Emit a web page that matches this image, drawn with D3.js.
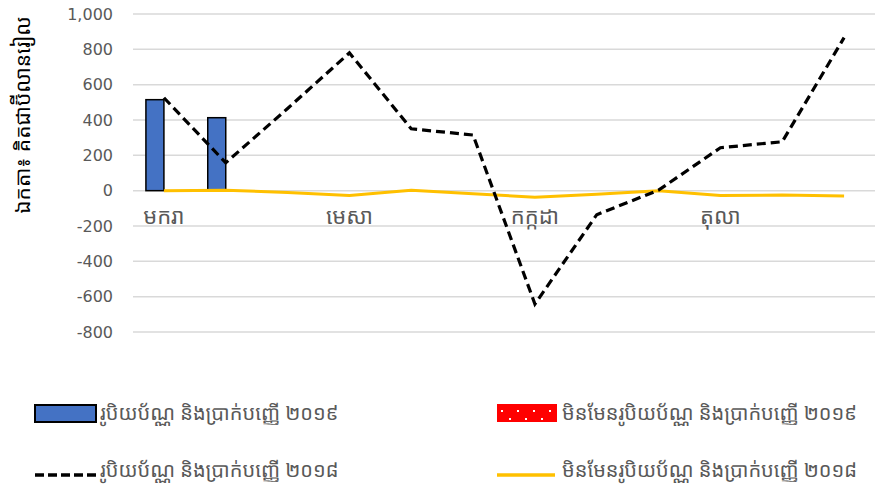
<!DOCTYPE html>
<html>
<head>
<meta charset="utf-8">
<script src="https://cdn.jsdelivr.net/npm/d3@7"></script>
<style>
  body { margin: 0; background: #fff; }
  text { font-family: "Noto Sans Khmer", "Khmer OS", Calibri, "Liberation Sans", "DejaVu Sans", sans-serif; }
</style>
</head>
<body>
<div class="canvas"></div>
<script>
// data
const months = ['មករា','កុម្ភៈ','មីនា','មេសា','ឧសភា','មិថុនា','កក្កដា','សីហា','កញ្ញា','តុលា','វិច្ឆិកា','ធ្នូ'];
const money2019 = [515, 413, null, null, null, null, null, null, null, null, null, null];
const nonMoney2019 = [null, null, null, null, null, null, null, null, null, null, null, null];
const money2018 = [526, 158, 465, 780, 350, 315, -642, -136, 3, 243, 277, 866];
const nonMoney2018 = [0, 2, -10, -28, 2, -18, -37, -20, 0, -28, -25, -30];
const yTicks = [-800, -600, -400, -200, 0, 200, 400, 600, 800, 1000];
const legendNames = [
    'រូបិយប័ណ្ណ និងប្រាក់បញ្ញើ ២០១៩',
    'មិនមែនរូបិយប័ណ្ណ និងប្រាក់បញ្ញើ ២០១៩',
    'រូបិយប័ណ្ណ និងប្រាក់បញ្ញើ ២០១៨',
    'មិនមែនរូបិយប័ណ្ណ និងប្រាក់បញ្ញើ ២០១៨'
];
const yTitle = 'ឯកតា៖ គិតជាប៊ីលានរៀល';

// margins
const margin = {top: 14, right: 4, bottom: 156, left: 133};
const width = 879, height = 488;
const graphWidth = width - margin.left - margin.right;
const graphHeight = height - margin.top - margin.bottom;

const svg = d3.select('.canvas').append('svg')
    .attr('width', width)
    .attr('height', height);

// red dotted pattern (legend swatch)
const pat = svg.append('defs').append('pattern')
    .attr('id', 'dots')
    .attr('width', 16).attr('height', 16)
    .attr('patternUnits', 'userSpaceOnUse');
pat.append('rect').attr('width', 16).attr('height', 16).attr('fill', '#ff0000');
pat.append('rect').attr('x', 4).attr('y', 13).attr('width', 2).attr('height', 2).attr('fill', '#fff');
pat.append('rect').attr('x', 12).attr('y', 5).attr('width', 2).attr('height', 2).attr('fill', '#fff');

const graph = svg.append('g')
    .attr('transform', `translate(${margin.left}, ${margin.top})`);

// scales
const x = d3.scaleBand()
    .domain(months)
    .range([0, graphWidth]);
const y = d3.scaleLinear()
    .domain([-800, 1000])
    .range([graphHeight, 0]);

// gridlines
graph.append('g')
    .selectAll('line')
    .data(yTicks)
    .join('line')
    .attr('x1', 0).attr('x2', graphWidth)
    .attr('y1', d => y(d)).attr('y2', d => y(d))
    .attr('stroke', '#d9d9d9')
    .attr('stroke-width', 1.5);

// y axis (plain hyphen for negatives, like the original)
const fmt = d3.format(',');
const yAxis = d3.axisLeft(y)
    .tickValues(yTicks)
    .tickSize(0)
    .tickPadding(20)
    .tickFormat(d => fmt(d).replace('\u2212', '-'));
const yAxisGroup = graph.append('g').call(yAxis);
yAxisGroup.select('.domain').remove();
yAxisGroup.selectAll('text')
    .attr('fill', '#595959')
    .style('font-family', '"DejaVu Sans", sans-serif')
    .style('font-size', '16px');

// bars (clustered: 2019 series side by side)
const barW = 18;
graph.append('g')
    .selectAll('rect')
    .data(money2019.map((v, i) => ({m: months[i], v})).filter(d => d.v != null))
    .join('rect')
    .attr('x', d => x(d.m) + x.bandwidth() / 2 - barW)
    .attr('width', barW)
    .attr('y', d => y(Math.max(0, d.v)))
    .attr('height', d => Math.abs(y(d.v) - y(0)))
    .attr('fill', '#4472c4')
    .attr('stroke', '#000')
    .attr('stroke-width', 1.5);

graph.append('g')
    .selectAll('rect')
    .data(nonMoney2019.map((v, i) => ({m: months[i], v})).filter(d => d.v != null))
    .join('rect')
    .attr('x', d => x(d.m) + x.bandwidth() / 2)
    .attr('width', barW)
    .attr('y', d => y(Math.max(0, d.v)))
    .attr('height', d => Math.abs(y(d.v) - y(0)))
    .attr('fill', 'url(#dots)');

// x labels every third month
graph.append('g')
    .selectAll('text')
    .data(months.filter((d, i) => i % 3 === 0))
    .join('text')
    .attr('x', d => x(d) + x.bandwidth() / 2)
    .attr('y', y(0) + 33)
    .attr('text-anchor', 'middle')
    .attr('fill', '#595959')
    .style('font-size', '22px')
    .text(d => d);

// lines
const line = d3.line()
    .x((d, i) => x(months[i]) + x.bandwidth() / 2)
    .y(d => y(d));

graph.append('path')
    .datum(nonMoney2018)
    .attr('d', line)
    .attr('fill', 'none')
    .attr('stroke', '#ffc000')
    .attr('stroke-width', 3)
    .attr('stroke-linejoin', 'round');

graph.append('path')
    .datum(money2018)
    .attr('d', line)
    .attr('fill', 'none')
    .attr('stroke', '#000')
    .attr('stroke-width', 3.2)
    .attr('stroke-dasharray', '9,5');

// y axis title
svg.append('text')
    .attr('transform', 'translate(30, 115) rotate(-90)')
    .attr('text-anchor', 'middle')
    .attr('fill', '#000')
    .style('font-size', '21px')
    .text(yTitle);

// legend
const legend = svg.append('g');
const legPos = [[35, 413], [497, 413], [35, 470], [497, 470]];
legendNames.forEach((name, i) => {
    const [lx, ly] = legPos[i];
    const g = legend.append('g').attr('transform', `translate(${lx}, ${ly})`);
    if (i === 0) {
        g.append('rect').attr('x', 0).attr('y', -8).attr('width', 61).attr('height', 17)
            .attr('fill', '#4472c4').attr('stroke', '#000').attr('stroke-width', 2);
    } else if (i === 1) {
        g.append('rect').attr('x', 0).attr('y', -9).attr('width', 60).attr('height', 18)
            .attr('fill', 'url(#dots)');
    } else if (i === 2) {
        g.append('line').attr('x1', 0).attr('x2', 61).attr('y1', 5).attr('y2', 5)
            .attr('stroke', '#000').attr('stroke-width', 3.5).attr('stroke-dasharray', '9,4');
    } else {
        g.append('line').attr('x1', 0).attr('x2', 58).attr('y1', 5).attr('y2', 5)
            .attr('stroke', '#ffc000').attr('stroke-width', 3.5);
    }
    g.append('text')
        .attr('x', 65)
        .attr('y', 7)
        .attr('fill', '#595959')
        .style('font-size', '20px')
        .text(name);
});
</script>
</body>
</html>
